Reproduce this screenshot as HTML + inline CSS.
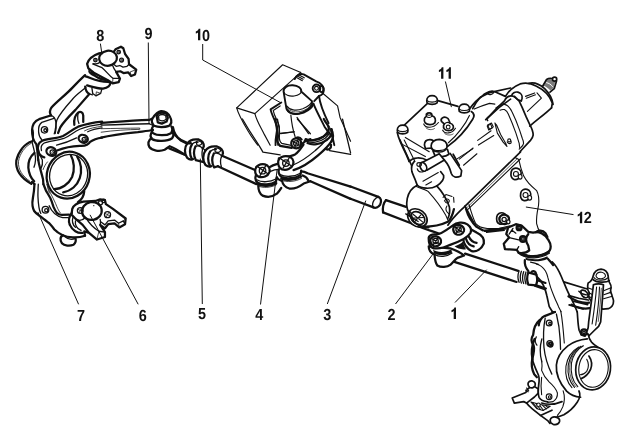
<!DOCTYPE html>
<html><head><meta charset="utf-8"><style>
html,body{margin:0;padding:0;background:#fff;}
svg{display:block;filter:blur(0.4px)}
.k{fill:none;stroke:#111;stroke-width:1.8;vector-effect:non-scaling-stroke;stroke-linejoin:round;stroke-linecap:round}
.m{fill:none;stroke:#111;stroke-width:1.15;vector-effect:non-scaling-stroke;stroke-linejoin:round;stroke-linecap:round}
.t{fill:none;stroke:#222;stroke-width:0.75;vector-effect:non-scaling-stroke;stroke-linejoin:round;stroke-linecap:round}
.hv .k{stroke-width:2.25}.hv .m{stroke-width:1.3}.hv .t{stroke-width:0.85}
.md .k{stroke-width:1.9}.md .m{stroke-width:1.15}
.lt .k{stroke-width:1.7}.lt .m{stroke-width:1.1}
.w{fill:#fff}
.b{fill:#111;stroke:none}
text{font-family:"Liberation Sans",sans-serif;font-weight:bold;font-size:16px;fill:#111;text-anchor:middle;text-rendering:geometricPrecision}
</style></head><body>
<svg width="630" height="439" viewBox="0 0 630 439">
<rect width="630" height="439" fill="#fff"/>
<g class="hv" transform="translate(60.0,40.0) scale(0.159490)">
<!-- 60 40 6.27 -->
<!-- ball joint 8 -->
<path class="k w" d="M170 150 C178 122 205 98 245 84 L262 80 L335 78 L348 58 L382 42 L397 52 L408 88 L430 118 L433 152 L478 186 L470 216 L446 226 L428 203 L398 207 L378 196 L352 200 L376 242 L368 264 L330 272 L300 252 L212 205 L178 178 Z"/>
<ellipse class="k w" cx="301" cy="114" rx="56" ry="47" transform="rotate(-8 303 113)"/>
<path class="m" d="M205 150 C225 160 250 168 262 172 C290 195 310 225 332 240 L372 240"/>
<path class="m" d="M330 160 C335 175 345 190 352 200"/>
<path class="m" d="M250 140 C240 150 225 152 210 148"/>
<path class="t" d="M332 240 L330 270"/>
<path class="m" d="M433 152 L420 165 L395 170 L375 160 L352 165 L335 150"/>
<path class="t" d="M446 226 L440 200 L478 186"/>
<circle class="m" cx="222" cy="126" r="11"/><circle class="t" cx="222" cy="126" r="5"/>
<circle class="m" cx="368" cy="76" r="11"/><circle class="t" cx="368" cy="76" r="5"/>
<circle class="m" cx="386" cy="126" r="12"/><circle class="t" cx="386" cy="126" r="5"/>
<!-- boot under plate -->
<path class="k" d="M185 185 C180 200 195 215 215 222 M200 205 C215 225 250 245 285 250"/>
<path class="k" d="M160 228 C190 235 230 262 300 262 L315 268 C318 285 300 300 270 305 C230 305 190 290 170 285"/>
<path class="m" d="M215 222 C235 240 265 250 300 252"/>
<path class="m" d="M200 300 L205 335 L225 350 L255 335 L262 310"/>
<path class="t" d="M225 350 L228 325 L255 335"/>

</g>
<g class="hv" transform="translate(30.0,70.0) scale(0.159490)">
<!-- 30 70 6.27 -->
<!-- upper arm -->
<path class="k" d="M345 32 C320 55 295 80 265 112 C225 155 165 200 135 235 C122 255 122 270 132 285"/>
<path class="k" d="M346 104 C348 125 358 142 372 150 C350 175 320 210 285 250 C245 290 210 325 190 360 L176 395"/>
<path class="m" d="M350 110 C320 135 290 155 265 185 C225 230 185 275 168 315 C160 345 162 375 152 400"/>
<path class="m" d="M132 285 C148 290 158 305 162 325 C166 350 164 375 158 398"/>
<path class="m" d="M372 150 L392 156"/>

</g>
<g class="hv" transform="translate(0.0,90.0) scale(0.159490)">
<!-- 0 90 6.27 -->
<!-- upper arm of left knuckle + steering arm root -->
<path class="k" d="M318 160 L245 183 C215 195 203 215 201 250 C200 290 210 320 228 340 C235 370 235 400 240 439"/>
<path class="m" d="M338 178 L262 203 C245 215 240 235 242 262 C243 285 250 300 262 312"/>
<circle class="m" cx="279" cy="250" r="20"/><circle class="m" cx="284" cy="252" r="9"/>
<!-- gap behind -->
<path class="k" d="M466 218 C462 190 470 160 490 142 C505 132 520 140 522 160 L522 200"/>
<path class="m" d="M490 142 C485 170 488 195 495 210"/>
<!-- steering arm upper edge -->
<path class="k" d="M640 198 C590 203 540 212 490 230 C450 248 430 272 395 288 C350 305 300 305 265 318 C240 330 232 355 240 385 C245 405 260 418 278 422"/>
<path class="m" d="M640 214 C590 220 545 228 500 246 C460 264 440 288 400 304 C355 320 305 320 275 334 C258 345 255 362 260 380"/>
<path class="t" d="M640 228 C600 232 560 240 530 256"/>
<path class="m" d="M640 238 C610 242 575 250 550 262"/>
<!-- steering arm lower edge -->
<path class="k" d="M640 298 C610 302 585 310 565 325 C555 345 530 352 500 350 C450 352 400 362 362 378"/>
<path class="m" d="M480 300 C440 320 400 335 355 345"/>
<!-- bolts -->
<ellipse class="k" cx="522" cy="306" rx="30" ry="24" transform="rotate(25 522 306)"/>
<circle class="m" cx="528" cy="310" r="13"/><circle class="t" cx="531" cy="312" r="6"/>
<ellipse class="k" cx="322" cy="386" rx="32" ry="26" transform="rotate(25 322 386)"/>
<circle class="m" cx="328" cy="390" r="14"/><circle class="t" cx="331" cy="392" r="6"/>

</g>
<g class="hv" transform="translate(0.0,150.0) scale(0.159490)">
<!-- 0 150 6.27 -->
<!-- ring -->
<ellipse class="k w" cx="428" cy="158" rx="134" ry="148" transform="rotate(18 428 158)"/>
<ellipse class="m" cx="430" cy="157" rx="118" ry="131" transform="rotate(18 430 157)"/>
<path class="k" d="M340 245 C385 245 430 215 452 169 C470 125 465 70 444 33"/>
<path class="k" d="M396 265 C445 258 485 222 500 177 C515 130 508 80 484 41"/>
<!-- top continuation from B1 -->
<path class="k" d="M240 63 L245 90 C252 120 262 150 270 185 L272 214"/>
<!-- body lower -->
<path class="k" d="M200 200 L216 214"/>
<path class="t" d="M300 200 C296 225 300 250 310 270"/>

</g>
<g class="hv" transform="translate(0.0,130.0) scale(0.127592)">
<!-- 0 130 7.8375 -->
<path class="k" d="M252 88 C195 105 145 165 128 240 C120 310 165 375 245 422"/>
<path class="t" d="M245 104 C195 130 155 185 145 245 C140 310 175 360 232 400"/>
<path class="k" d="M270 180 C235 210 220 255 222 295 C226 340 245 380 268 402"/>
<path class="m" d="M258 0 C265 30 262 60 252 95 C258 125 268 155 272 182 C282 215 280 255 266 292"/>
<path class="m" d="M300 150 C305 185 318 215 332 235 C335 260 330 285 322 300"/>
<path class="t" d="M372 250 C355 270 345 290 338 310"/>

</g>
<g class="hv" transform="translate(30.0,185.0) scale(0.159490)">
<!-- 30 185 6.27 -->
<!-- lower knuckle -->
<path class="k" d="M28 -5 C27 20 24 50 18 83 C14 105 14 120 16 131 C18 145 22 155 26 163 C35 175 45 182 52 187 C75 205 100 225 121 240 C135 255 145 268 153 279 C165 292 185 305 205 315"/>
<path class="m" d="M52 -5 C50 30 49 55 50 75 C51 100 53 120 56 139 C58 155 62 168 68 179"/>
<path class="k" d="M84 -5 C90 10 95 22 100 35 C110 52 120 68 128 83 C136 100 142 120 148 139 C155 155 162 168 170 177 C180 185 190 188 200 188 L245 186"/>
<path class="t" d="M104 -5 C115 30 140 70 160 115 C170 140 178 160 190 175"/>

<path class="m" d="M120 130 C135 165 165 195 205 205 L240 205"/>
<circle class="m" cx="97" cy="155" r="21"/><circle class="m" cx="102" cy="158" r="10"/>
<path class="k" d="M205 315 C190 325 188 345 200 365 C215 382 250 385 272 375 C285 365 290 350 285 335"/>
<path class="m" d="M215 322 C235 340 260 345 285 335"/>
<path class="k" d="M250 250 C265 285 300 305 330 300"/>
<path class="k" d="M205 315 C235 330 300 335 345 318"/>
<path class="k" d="M340 40 C338 65 330 90 300 108"/>
<!-- ball joint 6 -->
<path class="k w" d="M265 150 C272 128 295 112 335 104 L410 100 L440 90 L470 95 L476 120 L520 150 L600 210 L596 246 L560 266 L530 241 L490 246 L470 272 L440 250 L470 296 L470 326 L420 342 L370 300 L330 250 L290 216 L260 186 Z"/>
<ellipse class="k w" cx="388" cy="163" rx="62" ry="56" transform="rotate(-10 388 163)"/>
<circle class="b" cx="400" cy="130" r="4"/>
<path class="m" d="M290 216 C310 225 330 222 345 205"/>
<path class="m" d="M350 205 C370 240 400 270 432 290 L470 296"/>
<path class="t" d="M432 290 L420 340"/>
<path class="m" d="M440 215 C445 235 440 250 440 250"/>
<path class="m" d="M596 246 L585 225 L555 240 L530 220 L490 225 L470 250 L445 232"/>
<path class="t" d="M585 225 L600 210 M555 240 L560 266"/>
<circle class="m" cx="315" cy="160" r="18"/><path class="t" d="M300 152 L330 168 M322 146 L308 174"/>
<circle class="m" cx="486" cy="186" r="19"/><path class="t" d="M470 178 L502 194 M494 172 L478 200"/>
<circle class="m" cx="442" cy="112" r="13"/><circle class="m" cx="462" cy="100" r="11"/>
<!-- boot -->
<path class="k" d="M262 175 C245 195 240 225 250 250"/>
<path class="m" d="M270 200 C262 225 268 250 285 265"/>
<path class="m" d="M285 225 C280 250 295 275 320 285"/>
<path class="k" d="M345 318 L340 290 L362 298"/>

</g>
<g class="hv" transform="translate(90.0,100.0) scale(0.159490)">
<!-- 90 100 6.27 -->
<!-- steering arm -->
<path class="k" d="M70 143 C150 138 260 130 370 125 L392 116"/>
<path class="m" d="M70 158 C160 154 270 150 372 149"/>
<path class="t" d="M70 180 C150 178 240 177 312 176 L312 184 C240 186 150 190 70 202"/>
<path class="k" d="M70 236 C110 225 200 211 300 201 C340 196 370 193 395 188"/>
<path class="m" d="M372 149 L395 160"/>
<!-- tie rod end -->
<path class="k w" d="M392 116 C382 130 390 152 402 162 C425 172 470 172 495 162 C512 150 512 128 505 112 C495 85 470 68 445 70 C420 72 405 95 392 116Z"/>
<path class="k" d="M418 100 L428 85 L455 78 L480 88 L488 112 L480 135 L450 148 L425 140 Z"/>
<path class="m" d="M430 100 C440 88 465 88 475 100 L478 120 C465 132 445 134 432 124 Z"/>
<path class="m" d="M440 72 C445 82 460 84 470 78"/>
<path class="k" d="M395 165 C385 180 385 195 395 208 C420 225 480 225 508 208 C518 195 518 180 510 165"/>
<path class="k" d="M388 200 C378 215 378 232 388 245 C415 262 485 260 515 240 C525 228 525 212 518 200"/>
<path class="k" d="M386 238 C368 252 362 275 372 295 C390 318 435 325 468 312 C480 305 490 295 500 290 C530 300 560 320 592 342"/>
<path class="k" d="M520 170 C525 200 540 230 570 255 C590 268 610 275 632 270"/>

</g>
<g class="hv" transform="translate(170.0,120.0) scale(0.159490)">
<!-- 170 120 6.27 -->
<path class="k" d="M20 75 C35 105 60 125 100 140"/>
<path class="k" d="M-5 178 C30 190 60 205 95 218"/>
<!-- clamp1 -->
<path class="k" d="M108 148 C90 170 88 210 108 238 C120 248 135 250 145 245"/>
<path class="k" d="M138 152 C122 175 120 215 138 246"/>
<path class="k" d="M160 165 C148 190 148 225 162 252 L205 262"/>
<path class="k" d="M108 148 C120 128 150 118 180 122 C200 128 212 145 212 165 L205 180"/>
<path class="m" d="M165 135 C175 128 195 132 200 145 C198 158 180 162 168 155 Z"/>
<path class="m" d="M138 152 C150 140 165 138 175 140 M160 165 C175 160 195 165 205 180"/>
<path class="m" d="M205 180 C198 205 200 235 210 262"/>
<!-- clamp2 -->
<path class="k" d="M222 192 C205 215 203 255 222 282 C235 292 250 294 260 290"/>
<path class="k" d="M252 197 C236 220 234 260 252 291"/>
<path class="k" d="M275 210 C262 235 262 270 277 297 L300 290"/>
<path class="k" d="M222 192 C235 172 265 162 295 166 C318 172 332 190 332 210 L325 225"/>
<path class="m" d="M280 180 C290 172 312 176 318 190 C315 203 296 207 284 200 Z"/>
<path class="m" d="M252 197 C265 185 280 183 290 185 M275 210 C292 205 312 210 325 225"/>
<path class="m" d="M325 225 C315 245 315 270 322 292"/>
<!-- rod -->
<path class="k" d="M330 226 L533 313"/>
<path class="k" d="M300 290 L542 402"/>
<path class="m" d="M215 185 L222 192 M210 262 L225 285"/>

</g>
<g class="md" transform="translate(230.0,60.0) scale(0.191388)">
<!-- 230 60 5.225 -->
<!-- frame box thin -->
<path class="m" d="M275 25 L370 65 M275 25 L35 250 L130 280 L370 65"/>
<path class="m" d="M35 250 C45 290 70 330 100 380 C115 405 130 425 145 445"/>
<path class="m" d="M130 280 C140 320 160 350 180 390 L210 445"/>
<path class="m" d="M480 170 L562 240 L575 300 L630 425"/>
<path class="m" d="M265 385 L335 375"/>
<path class="m" d="M350 300 L410 385"/>
<!-- broken edge thick -->
<path class="k" d="M268 222 L212 258 C218 290 240 320 246 350 C248 380 235 400 238 445"/>
<path class="m" d="M262 240 L226 264 C232 295 252 322 258 350 C260 380 248 405 250 445"/>
<!-- cap -->
<path class="k w" d="M280 165 C278 145 300 130 328 132 C355 134 375 148 372 165 L428 215 C432 245 400 270 360 280 C330 285 305 275 295 255 Z"/>
<path class="m" d="M280 165 C285 182 310 192 335 188 C358 184 372 175 372 165"/>
<path class="m" d="M296 240 C310 262 345 268 380 255 C405 245 425 228 428 215"/>
<path class="k" d="M300 262 C312 280 345 290 385 275 C415 262 432 245 435 228"/>
<path class="t" d="M298 250 C312 270 345 278 382 265 C408 254 428 238 431 222"/>
<!-- bracket back -->
<path class="k" d="M338 100 C345 80 365 68 385 75 L450 112 C475 118 492 140 490 160 C488 175 478 185 465 188 L440 215"/>
<path class="m" d="M348 92 L378 108 M352 84 L382 100 M358 77 L388 93"/>
<circle class="k" cx="452" cy="148" r="20"/><circle class="m" cx="452" cy="148" r="10"/>
<ellipse class="k" cx="478" cy="152" rx="10" ry="16"/>
<path class="k" d="M436 228 C450 265 475 310 495 350 C510 375 525 390 535 400 L545 445"/>
<path class="m" d="M318 288 C322 330 330 370 340 400"/>
<path class="k" d="M465 188 C470 230 490 280 515 330"/>
<path class="k" d="M335 415 C345 400 365 400 375 415 M330 445 C335 430 350 425 360 430"/>
<path class="k" d="M390 420 C430 425 480 410 510 385"/>

</g>
<g class="hv" transform="translate(230.0,120.0) scale(0.191388)">
<!-- 230 120 5.225 -->
<!-- frame thin lines -->
<path class="m" d="M65 -5 C85 30 110 70 130 100 C150 130 165 155 172 168 L262 182"/>
<path class="m" d="M352 -5 L420 72"/>
<path class="m" d="M588 -5 L630 172 M520 160 L630 180"/>
<path class="m" d="M262 70 L335 62"/>
<!-- bracket edge -->
<path class="k" d="M236 -5 C240 25 250 50 246 80 C243 100 245 120 262 135 L322 146"/>
<path class="m" d="M248 -5 C252 25 262 50 258 80 C256 100 258 112 270 122 L320 132"/>
<!-- body base rings -->
<path class="k" d="M395 100 C420 112 460 108 490 85 C510 68 520 50 515 35"/>
<path class="m" d="M400 110 C425 122 465 118 497 95 C517 78 527 58 523 42"/>
<path class="k" d="M405 120 C430 133 472 128 505 105 C527 88 537 66 530 48"/>
<path class="k" d="M490 -5 C500 15 512 25 515 35"/>
<path class="k" d="M530 48 C540 70 540 95 530 112"/>
<path class="k" d="M500 150 C515 160 530 150 528 130"/>
<!-- bolt -->
<circle class="k w" cx="346" cy="122" r="26"/><path class="m" d="M328 112 L364 132 M356 102 L338 142"/><circle class="m" cx="346" cy="122" r="14"/>
<!-- idler arm -->
<path class="k" d="M372 128 C385 115 400 105 420 100"/>
<path class="k" d="M255 200 C285 195 320 190 340 180 C360 165 372 145 384 128"/>
<path class="k" d="M332 262 C370 250 420 220 460 185 C490 160 515 135 530 112"/>
<path class="m" d="M330 235 C365 220 410 190 445 160 C470 140 490 120 505 100"/>
<!-- plate between nuts -->
<path class="k" d="M200 250 C215 240 235 232 252 228"/>
<path class="m" d="M208 270 C225 262 240 258 255 258"/>
<!-- nut 2 -->
<path class="k w" d="M252 215 C255 195 280 185 305 190 C325 195 335 212 330 232 C322 255 295 265 272 258 C255 250 250 235 252 215Z"/>
<path class="m" d="M268 205 L318 238 M308 200 L278 250"/><circle class="m" cx="292" cy="225" r="17"/>
<!-- nut 1 -->
<path class="k w" d="M132 258 C135 238 158 228 182 232 C202 238 210 255 206 272 C198 295 172 303 150 297 C135 290 130 275 132 258Z"/>
<path class="m" d="M146 245 L196 280 M186 240 L156 292"/><circle class="m" cx="170" cy="265" r="17"/>
<!-- rod left -->
<!-- joint 1 -->
<path class="k" d="M135 290 C130 305 135 320 145 328 C170 342 215 338 240 322 L245 300"/>
<path class="m" d="M140 312 C165 328 210 325 240 308"/>
<path class="k" d="M145 335 C170 350 215 346 242 330"/>
<path class="t" d="M143 343 C170 358 215 354 243 338"/>
<path class="k" d="M148 345 C148 365 155 385 170 395 C195 405 225 400 245 385 C255 375 262 365 268 355"/>
<!-- joint 2 -->
<path class="k" d="M255 258 C252 275 258 290 270 298 C295 310 340 305 368 288 L372 265"/>
<path class="m" d="M262 285 C290 300 338 296 368 278"/>
<path class="k" d="M268 305 C295 318 342 314 372 296"/>
<path class="t" d="M268 314 C295 327 342 323 374 305"/>
<path class="k" d="M272 318 C275 335 290 352 310 358 C335 362 360 350 385 332 L420 320"/>
<path class="k" d="M245 300 C250 310 260 315 270 318"/>
<!-- rod 3 -->
<path class="k" d="M372 268 C385 268 395 272 405 278 L630 348"/>
<path class="k" d="M420 320 L630 412"/>
<path class="k" d="M380 290 C395 295 405 305 410 318"/>

</g>
<g class="hv" transform="translate(340.0,150.0) scale(0.191388)">
<!-- 340 150 5.225 -->
<!-- rod 3 end -->
<path class="k" d="M55 191 L200 245"/>
<path class="k" d="M55 255 L175 300"/>
<path class="k" d="M200 245 C215 250 218 268 210 285 C200 300 185 305 175 300"/>
<path class="m" d="M175 300 C168 290 170 275 178 262 C185 252 195 246 202 246"/>
<!-- stub rod -->
<path class="k" d="M240 262 L345 297"/>
<path class="k" d="M225 326 L365 380 C400 395 440 412 480 424 L528 440"/>
<path class="k" d="M240 262 C228 275 222 300 225 326"/>

</g>
<g class="lt" transform="translate(390.0,80.0) scale(0.191388)">
<!-- 390 80 5.225 -->
<!-- cover plate -->
<path class="k" d="M72 238 L196 122"/>
<path class="k" d="M250 108 L355 138"/>
<path class="k" d="M425 165 C440 175 442 190 432 205 C405 250 360 305 300 348"/>
<path class="m" d="M415 185 C395 230 350 290 305 328"/>
<path class="k" d="M38 275 C45 310 65 350 85 390 L100 425"/>
<path class="m" d="M80 300 L205 375"/>
<path class="m" d="M62 335 L185 400"/>
<!-- bolts -->
<defs><g id="bolt"><path class="k w" d="M-28 0 C-28 -18 -15 -26 0 -26 C15 -26 28 -18 28 0 L26 12 C15 22 -15 22 -26 12 Z"/><path class="m" d="M-26 0 C-15 10 15 10 26 0"/></g></defs>
<use href="#bolt" x="220" y="108"/>
<use href="#bolt" x="388" y="152"/>
<use href="#bolt" x="66" y="262"/>
<path class="k w" d="M180 340 C180 322 192 312 208 312 C222 312 232 320 235 335 L232 355 L185 358 Z"/>
<!-- adjuster studs -->
<path class="k w" d="M180 202 C178 212 180 220 184 224 C195 235 220 238 234 224 C238 215 238 208 236 202 C232 192 226 188 220 188 L218 178 C212 170 198 170 190 178 L190 190 C184 194 181 198 180 202Z"/>
<path class="m" d="M190 190 C198 198 212 198 220 188 M193 180 C198 186 210 186 216 180"/>
<path class="m" d="M176 230 C185 252 225 256 253 222"/>
<path class="t" d="M188 250 C200 262 220 262 232 254"/>
<path class="k w" d="M280 236 C278 246 280 252 284 256 C295 268 318 268 328 256 C332 248 332 242 330 238 C326 230 320 227 314 226 L308 210 C304 196 286 190 274 198 C266 204 266 212 270 218 L284 230Z"/>
<circle class="m" cx="304" cy="246" r="10"/>
<path class="m" d="M284 230 C292 222 305 220 314 226"/>
<path class="m" d="M275 262 C285 282 322 284 342 252"/>
<path class="t" d="M286 280 C298 290 318 290 330 282"/>
<!-- big cap -->
<path class="k w" d="M215 345 C215 325 232 310 258 310 C285 312 300 328 298 348 C295 368 275 378 252 376 C230 374 215 362 215 345Z"/>
<path class="m" d="M218 355 C230 372 275 375 296 356"/>
<path class="k" d="M225 372 L235 395 C255 405 290 402 308 388 L300 362"/>
<!-- housing right -->
<path class="k" d="M432 150 C445 125 458 105 472 90 L520 66 L630 42"/>
<path class="m" d="M440 152 C470 138 500 128 520 122 L548 126"/>
<path class="k" d="M630 100 C600 120 560 150 525 185 L500 207"/>
<path class="m" d="M510 235 L530 225 L540 245 L520 258Z"/>
<path class="m" d="M350 412 L432 360 M462 340 L542 290"/>
<path class="k" d="M330 388 L362 445"/>
<!-- lower-left stuff -->
<path class="k" d="M100 425 C120 405 160 400 195 420 L215 445"/>
<path class="k" d="M235 395 L215 445"/>

</g>
<g class="lt" transform="translate(470.0,60.0) scale(0.191388)">
<!-- 470 60 5.225 -->
<path class="k" d="M0 252 C20 225 40 205 60 192 C80 172 105 160 130 166 L185 190"/>
<ellipse class="m" cx="108" cy="172" rx="16" ry="8" transform="rotate(-15 108 172)"/>
<path class="k" d="M185 190 C200 165 225 140 262 125 C290 118 320 122 345 136 C385 155 418 190 430 225 L426 250"/>
<path class="k" d="M426 250 C400 275 360 305 312 345"/>
<path class="k" d="M308 122 C335 115 365 128 390 150 C415 175 430 205 434 232"/>
<!-- collar -->
<path class="k" d="M95 300 L143 249 L180 214 C185 200 200 188 218 186 C235 190 248 205 257 215 L273 249 L293 296 L313 339 C322 355 330 375 330 392 C328 405 322 412 316 420 L262 478"/>
<path class="m" d="M157 262 C165 258 172 258 180 259 C190 265 196 272 200 282 L220 329 L240 382 L257 436 L260 459"/>
<path class="m" d="M180 232 C190 234 196 238 200 242 C208 250 215 260 220 272 L240 316 L260 369 L273 409 C278 420 280 428 280 436 C278 446 272 452 267 456 L257 466"/>
<path class="k" d="M95 300 C88 303 86 310 92 316"/>
<path class="m w" d="M130 329 L143 382 L173 429 L193 452 L187 436 L160 389 L140 342Z"/>
<!-- boss -->
<path class="k w" d="M218 186 C220 172 235 165 250 168 C265 172 275 185 272 200 L268 215 C255 212 240 200 232 190Z"/>
<!-- input shaft -->
<path class="k" d="M378 140 L400 102 C415 92 440 95 452 110 L440 150 L418 168"/>
<path class="b" d="M385 135 L402 106 C415 98 435 100 446 112 L436 146 L420 160 C410 148 398 140 385 135Z" opacity="0.55"/>
<ellipse class="k w" cx="442" cy="100" rx="11" ry="10"/>
<path d="M398 118 C410 120 425 128 432 140" fill="none" stroke="#fff" stroke-width="1" vector-effect="non-scaling-stroke"/>
<!-- marks -->
<path class="m" d="M290 190 L338 172 M294 200 L342 182"/>
<path class="m" d="M300 268 L372 200"/>
<path class="m" d="M350 172 L372 198"/>
<path class="m" d="M90 345 L108 335 L116 355 L98 366Z"/>
<circle class="m" cx="205" cy="420" r="8"/>
<path class="m" d="M40 420 L110 370"/>
<path class="m" d="M135 250 C160 235 175 228 180 226"/>

</g>
<g class="lt" transform="translate(400.0,140.0) scale(0.191388)">
<!-- 400 140 5.225 -->
<path class="k" d="M0 0 L60 132"/>
<path class="m" d="M22 0 L78 112"/>
<!-- pipe -->
<path class="k w" d="M108 122 L205 72 L232 105 L140 158Z"/>
<ellipse class="k w" cx="122" cy="140" rx="16" ry="24" transform="rotate(-25 122 140)"/>
<ellipse class="m" cx="100" cy="128" rx="12" ry="10"/>
<path class="m" d="M90 150 C95 165 110 170 125 165"/>
<!-- boss/housing -->
<path class="k" d="M75 112 C62 125 58 145 62 165 C68 185 78 200 82 215 L90 236 C110 255 160 258 192 240 C215 225 232 205 228 185 L212 165"/>
<path class="k" d="M232 105 C250 125 262 150 268 175 C275 195 295 200 318 188 L322 160 L262 70"/>
<path class="m" d="M120 215 L200 170 M135 235 L165 218"/>
<path class="k" d="M90 236 C65 248 45 270 38 305 C32 340 35 360 45 375"/>
<path class="k" d="M192 240 C220 270 245 310 258 350 C262 375 258 395 250 410"/>
<path class="m" d="M225 300 L240 285 L272 295 M232 318 C238 305 255 305 258 318 C258 330 240 332 236 322 M280 300 L282 325"/>
<path class="m" d="M245 345 C235 360 240 375 255 385"/>
<!-- long diagonal -->
<path class="k" d="M630 62 L340 345 C310 375 280 400 250 445"/>
<path class="m" d="M630 98 L352 365"/>
<path class="k" d="M340 345 L392 445"/>
<path class="m" d="M310 100 L382 42 M332 132 L402 72"/>
<path class="m" d="M560 10 C570 25 585 20 580 5"/>
<!-- shaft end ring -->
<ellipse class="k w" cx="91" cy="407" rx="55" ry="43" transform="rotate(38 91 407)"/>
<ellipse class="k" cx="93" cy="408" rx="40" ry="30" transform="rotate(38 93 408)"/>
<path class="m" d="M68 388 L118 428 M78 425 L108 392 M62 408 L122 405"/>
<path class="k" d="M45 375 C55 420 90 455 150 458"/>
<path class="m" d="M83 242 C110 255 140 262 148 270 C180 305 215 350 240 395 L250 418"/>

</g>
<g class="lt" transform="translate(470.0,150.0) scale(0.191388)">
<!-- 470 150 5.225 -->
<!-- plate 12 -->
<path class="m" d="M235 39 L255 50 C260 75 268 105 280 135 C295 165 320 190 348 212 C360 235 362 260 358 290 C352 320 345 350 348 385 C352 405 360 420 368 430"/>
<path class="t" d="M247 45 L-20 305"/>
<path class="m" d="M-5 285 C5 320 15 355 30 385 C45 402 65 408 90 410 L150 410 L210 396"/>
<!-- bolts -->
<g class="nut1"><path class="k w" d="M215 115 C218 100 232 92 248 96 C262 100 270 115 266 130 C262 148 245 158 230 154 C216 148 212 132 215 115Z"/><circle class="m" cx="240" cy="125" r="13"/><ellipse class="m w" cx="262" cy="140" rx="10" ry="12"/></g>
<g><path class="k w" d="M265 225 C268 210 282 202 298 206 C312 210 320 225 316 240 C312 258 295 268 280 264 C266 258 262 242 265 225Z"/><circle class="m" cx="290" cy="235" r="13"/><ellipse class="m w" cx="312" cy="250" rx="10" ry="12"/></g>
<g><path class="k w" d="M140 348 C143 333 157 325 173 329 C187 333 195 348 191 363 C187 381 170 391 155 387 C141 381 137 365 140 348Z"/><circle class="m" cx="165" cy="358" r="13"/><ellipse class="m w" cx="187" cy="373" rx="10" ry="12"/></g>

</g>
<g class="hv" transform="translate(400.0,210.0) scale(0.191388)">
<!-- 400 210 5.225 -->
<!-- housing bottom -->
<path class="k" d="M120 88 C160 88 210 82 250 62 C265 50 275 25 282 -5"/>
<path class="k" d="M345 -5 C355 30 375 65 400 88 L432 106"/>
<path class="m" d="M432 106 L560 92 M440 112 L555 98 M452 117 L545 106"/>
<!-- rod 1 -->
<path class="k" d="M340 228 L617 318"/>
<path class="k" d="M284 271 L609 376"/>
<!-- joint B (back) -->
<path class="k w" d="M330 150 C332 175 345 200 375 215 C400 220 425 205 438 175 C442 150 425 130 400 118 L372 102 Z"/>
<path class="k" d="M345 150 C350 170 365 185 385 190 M360 140 C368 158 382 170 400 172"/>
<path class="b" d="M285 190 C300 200 320 210 345 205 C338 195 332 180 330 165 C315 178 300 185 285 190Z"/>
<!-- joint A -->
<path class="k w" d="M150 190 C150 210 160 225 180 232 C182 255 185 278 195 290 C215 302 245 300 265 285 C278 272 288 258 300 250 L335 238 C320 225 290 210 262 200 Z"/>
<path class="b" d="M172 205 C190 222 235 225 268 205 L272 222 C240 242 195 240 178 225Z"/>
<path class="m" d="M180 232 C205 248 245 245 272 225"/>
<!-- arm -->
<path class="k w" d="M150 150 C148 135 165 125 190 128 C215 128 250 100 275 82 C295 65 330 60 352 75 C370 88 375 105 368 120 C355 145 310 165 262 182 C230 198 195 205 170 198 C155 190 150 170 150 150Z"/>
<!-- nuts -->
<path class="k" d="M158 160 C158 145 172 135 190 138 C208 142 218 155 214 170 C208 185 192 192 176 188 C164 182 158 172 158 160Z"/>
<circle class="m" cx="186" cy="162" r="14"/><path class="m" d="M168 150 L206 176 M200 145 L174 182"/>
<path class="k" d="M278 100 C278 85 292 75 310 78 C328 82 338 95 334 110 C328 125 312 132 296 128 C284 122 278 112 278 100Z"/>
<circle class="m" cx="306" cy="102" r="14"/><path class="m" d="M288 90 L326 116 M320 85 L294 122"/>
<!-- shaft end bits -->
<path class="m" d="M30 20 L95 60 M55 10 L70 55"/>
<!-- bolt -->
<path class="k w" d="M520 42 C523 28 537 22 552 26 C565 30 572 42 568 56 C562 70 548 76 535 72 C523 66 518 55 520 42Z"/><circle class="m" cx="544" cy="50" r="11"/><ellipse class="m w" cx="566" cy="62" rx="9" ry="10"/>

</g>
<g class="hv" transform="translate(490.0,215.0) scale(0.191388)">
<!-- 490 215 5.225 -->
<!-- rod 1 end -->
<path class="m" d="M152 292 C145 310 145 335 152 352 M164 294 C157 312 157 338 164 356 M176 296 C169 315 169 340 176 358 M188 298 C181 317 181 342 188 360"/>
<path class="k" d="M200 300 C193 320 193 345 200 364 L240 368 C248 350 248 328 242 312 L200 300"/>
<path class="k" d="M215 302 C218 292 232 290 238 300 L242 312"/>
<path class="k" d="M246 340 L290 355 M242 368 L292 384"/>
<!-- bracket plate -->
<path class="k w" d="M95 65 L135 48 L165 55 L200 88 L225 92 C255 82 290 100 305 130 C318 150 320 170 312 185 C290 210 240 222 195 212 L150 198 L140 182 L78 178 L72 150 L100 118 L85 100 Z"/>
<path class="k" d="M200 100 C185 115 185 140 200 160 L205 185 C195 195 170 200 150 198"/>
<path class="m" d="M100 118 L150 130 M140 182 L150 165"/>
<path class="k" d="M155 200 C190 222 260 222 308 192"/>
<path class="m" d="M160 208 C195 230 262 230 310 200"/>
<path class="b" d="M185 222 C215 235 265 235 300 215 L302 228 C270 245 215 245 188 234Z"/>
<path class="k" d="M240 90 C250 78 275 78 290 95 L300 115"/>
<!-- nuts -->
<circle class="k w" cx="152" cy="66" r="13"/><circle class="m" cx="152" cy="66" r="6"/>
<circle class="k w" cx="172" cy="125" r="15"/><circle class="m" cx="172" cy="125" r="7"/>
<path class="m" d="M115 80 L135 95 M120 70 L100 100"/>
<!-- arm -->
<path class="k" d="M182 236 C180 255 185 275 200 292"/>
<path class="k" d="M302 228 C312 240 322 250 330 262"/>
<path class="m" d="M212 246 C225 248 240 252 252 258"/>

</g>
<g class="hv" transform="translate(500.0,285.0) scale(0.207340)">
<!-- 500 285 4.823 -->
<!-- flange -->
<path class="k" d="M265 130 L215 150 C198 158 190 172 187 195"/>
<path class="k" d="M192 168 C172 185 162 210 160 240 C150 255 150 275 162 290 C168 310 162 335 155 360 C150 385 155 410 165 430 L178 445"/>
<path class="m" d="M218 160 C210 200 208 250 212 300 C216 340 228 385 250 430"/>
<path class="m" d="M272 140 C282 180 288 220 290 260 L292 310"/>
<circle class="m" cx="237" cy="183" r="14"/><circle class="m" cx="241" cy="185" r="6"/>
<circle class="m" cx="240" cy="282" r="14"/><circle class="m" cx="244" cy="284" r="6"/>
<path class="m" d="M175 250 C168 262 170 280 178 290"/>
<!-- steering arm bolt -->
<circle class="k w" cx="405" cy="228" r="14"/><circle class="m" cx="405" cy="228" r="6"/>
<!-- behind rod -->
<path class="k" d="M330 55 C360 75 395 90 430 85"/>
<path class="k" d="M345 95 C375 110 405 118 432 112"/>
<path class="m" d="M380 30 C395 45 415 50 432 45"/>

</g>
<g class="hv" transform="translate(490.0,340.0) scale(0.207340)">
<!-- 490 340 4.823 -->
<!-- body left -->
<path class="k" d="M215 -5 C202 25 198 60 205 95"/>
<path class="m" d="M250 -5 C240 30 240 70 250 105"/>
<circle class="m" cx="292" cy="22" r="12"/><circle class="m" cx="295" cy="24" r="5"/>

</g>
<g class="lt" transform="translate(550.0,250.0) scale(0.127592)">
<!-- 550 250 7.8375 -->
<!-- rod from behind -->
<path class="k" d="M108 250 L298 308"/>
<path class="k" d="M242 321 C248 312 262 312 278 322 C295 335 302 355 296 368 C288 378 268 376 255 362 C245 350 240 335 242 321Z"/>
<path class="k" d="M150 358 L225 378 L300 392"/>
<path class="k" d="M180 402 L295 428"/>
<path class="k" d="M150 430 L260 462"/>
<!-- tie rod end -->
<path class="k w" d="M299 258 C318 250 332 235 338 205 C345 175 370 152 400 150 C432 152 452 175 456 205 C458 235 462 250 468 258 C478 275 480 290 479 295 C474 310 474 325 476 333 C484 345 487 355 487 363 C492 375 498 388 498 400 C498 420 492 432 487 438 C478 450 468 456 457 460 L415 464 L329 408 C322 400 318 396 318 393 C308 380 303 370 303 363 C308 350 308 340 307 333 C298 320 294 305 295 295 C294 280 296 268 299 258Z"/>
<path class="m" d="M360 202 C365 182 385 172 405 174 C425 178 438 192 434 208 C425 225 395 230 375 222 C365 216 360 210 360 202Z"/>
<path class="m" d="M345 215 C360 240 430 245 452 218"/>
<path class="k" d="M338 232 C360 255 440 258 465 240"/>
<path class="m" d="M296 295 L338 312 M304 335 L335 350 M305 365 L332 378"/>
<path class="m" d="M425 318 L478 296 M422 350 L480 330 M420 382 L488 362"/>
<!-- arm bar edge-on -->
<path class="k w" d="M340 273 C330 370 315 470 303 564 L299 610 L287 647 L306 672 L343 635 L381 598 L397 564 C405 470 412 370 419 273 C400 262 360 262 340 273Z"/>
<path class="m" d="M365 290 C358 380 345 480 330 580 M388 290 C385 380 375 480 358 590"/>
<path class="t" d="M402 300 C398 380 390 470 378 560"/>

</g>
<g class="lt" transform="translate(530.0,280.0) scale(0.159490)">
<!-- 530 280 6.27 -->
<path class="k" d="M296 199 C300 240 300 280 308 315 L322 345 L345 352"/>
<path class="m" d="M193 195 C205 260 210 330 215 395"/>
<path class="k" d="M140 198 L158 202"/>

</g>
<g class="lt" transform="translate(520.0,262.0) scale(0.111645)">
<!-- 520 262 8.957 -->
<path class="k" d="M150 130 C175 150 195 180 210 210 C225 245 235 275 240 300 C248 335 255 370 262 400 L290 445"/>
<path class="m" d="M150 20 C180 25 205 45 228 80 C240 100 246 120 250 140 C258 170 265 200 275 230 C285 260 298 290 310 320 C322 350 335 375 345 400 L368 445"/>
<path class="k" d="M288 -2 C305 15 320 32 330 50 C345 75 358 100 370 130 C380 155 390 178 400 200 C410 225 420 248 430 270 C442 298 455 322 470 350 C485 380 500 412 512 445"/>
<path class="k" d="M132 214 L222 246"/>

</g>
<g class="lt" transform="translate(500.0,360.0) scale(0.143534)">
<!-- 500 360 6.967 -->
<!-- body left lower -->
<path class="k" d="M226 -2 C235 30 250 65 262 92 C275 115 275 140 270 170 C266 200 262 230 272 260 C282 278 305 288 332 292"/>
<path class="m" d="M291 12 C295 40 292 60 290 72 C300 100 320 130 342 152 C365 172 390 195 400 230 C402 255 392 275 370 290 L332 295"/>
<path class="m" d="M290 120 C285 160 284 200 290 242"/>
<circle class="m" cx="342" cy="256" r="20"/><circle class="m" cx="346" cy="258" r="9"/>
<!-- lower arm -->
<path class="k" d="M290 300 C330 312 390 308 432 290"/>
<path class="m" d="M440 215 C452 250 450 290 438 325 C428 350 415 370 400 386"/>
<path class="k" d="M550 216 C562 240 555 270 538 295 C515 330 480 362 445 382 C425 392 400 398 380 402"/>
<!-- lower ball joint -->
<path class="k w" d="M85 265 L180 226 C185 205 205 188 235 182 L265 200 L265 232 L240 258 L205 285 L185 300 L165 290 L100 300 Z"/>
<path class="k" d="M185 300 C195 315 210 328 225 340 L282 386 L332 422 L348 442"/>
<path class="k" d="M282 386 L362 350"/>
<path class="m" d="M215 292 L290 312 L350 322 L300 352 L258 340 Z"/>
<path class="m" d="M230 300 L262 338 M250 304 L282 345 M272 310 L302 350 M295 314 L322 340 M318 318 L335 332"/>
<path class="k w" d="M195 168 C195 152 210 143 225 146 C240 150 248 162 245 176 C240 192 222 198 208 192 C198 186 195 178 195 168Z"/>
<path class="m" d="M185 195 L200 215 M178 210 L195 222"/>
<circle class="m w" cx="268" cy="312" r="12"/>
<path class="k w" d="M350 418 C352 402 368 394 388 398 C405 402 418 414 415 428 C410 445 390 452 370 448 C355 442 348 430 350 418Z"/>

</g>
<g class="lt" transform="translate(550.0,335.0) scale(0.127592)">
<!-- 550 335 7.8375 -->
<!-- hub base -->
<path class="k" d="M292 30 C240 35 185 50 140 85 C90 125 55 180 50 235 C45 300 70 370 130 440 C160 470 200 485 240 488"/>
<path class="k" d="M300 -5 C302 15 310 35 325 55 C345 80 375 95 400 110 C420 125 435 140 445 160"/>
<!-- threads -->
<path class="m" d="M262 85 C215 110 180 160 168 220 C160 290 175 360 218 405"/>
<path class="m" d="M242 88 C192 118 155 170 143 235 C136 300 150 365 192 410"/>
<path class="m" d="M226 94 C172 125 135 180 125 245 C118 310 132 370 172 412"/>
<path class="t" d="M252 86 C204 114 168 165 156 228 C148 295 162 362 205 408"/>
<!-- rim -->
<ellipse class="k w" cx="338" cy="262" rx="136" ry="169" transform="rotate(8 338 262)"/>
<ellipse class="m" cx="341" cy="262" rx="115" ry="148" transform="rotate(8 341 262)"/>
<path class="k" d="M305 165 C325 195 332 235 318 270 C302 305 275 330 245 342"/>
<path class="m" d="M288 190 C305 220 305 255 288 285 C275 300 255 312 236 312"/>

</g>
<g class="lead" fill="none" stroke="#111" stroke-width="1">
<path d="M37.9 212.2 L78.6 304.3"/>
<path d="M90 214.8 L138.2 304.3"/>
<path d="M200.3 158.6 L202.3 304"/>
<path d="M277.2 169 L260.5 304.5"/>
<path d="M365.8 200.6 L327.3 304"/>
<path d="M434.6 251.9 L395.5 304"/>
<path d="M486.7 269.7 L455 302.5"/>
<path d="M100.4 43.6 L102 54.6"/>
<path d="M148.3 42.5 L149 123"/>
<path d="M202.7 44 L202.7 60 L281 102.9"/>
<path d="M445.4 81.5 L451.4 107.1"/>
<path d="M573.5 214.6 L525.9 207"/>
</g>
<g id="labels">
<text transform="translate(81,320.6) scale(0.9,1)">7</text>
<text transform="translate(142.8,320.6) scale(0.9,1)">6</text>
<text transform="translate(202,319.4) scale(0.9,1)">5</text>
<text transform="translate(259.2,320.4) scale(0.9,1)">4</text>
<text transform="translate(327.2,320.4) scale(0.9,1)">3</text>
<text transform="translate(391.5,320.4) scale(0.9,1)">2</text>
<text transform="translate(100.2,41.2) scale(0.9,1)">8</text>
<text transform="translate(148.4,39.2) scale(0.9,1)">9</text>
<defs><path id="one" d="M2.2 0 L4.5 0 L4.5 -11.5 L2.9 -11.5 C2.5 -10.2 1.5 -9.2 0 -8.7 L0 -6.8 C0.9 -7.0 1.6 -7.4 2.2 -7.9 Z" fill="#111"/></defs>
<use href="#one" x="451.5" y="319"/>
<use href="#one" x="195.8" y="40.3"/>
<text transform="translate(205.9,40.5) scale(0.9,1)">0</text>
<use href="#one" x="438.9" y="78.8"/>
<use href="#one" x="446.4" y="78.8"/>
<use href="#one" x="577.7" y="223.2"/>
<text transform="translate(587.7,223.2) scale(0.9,1)">2</text>
</g>

</svg>
</body></html>
